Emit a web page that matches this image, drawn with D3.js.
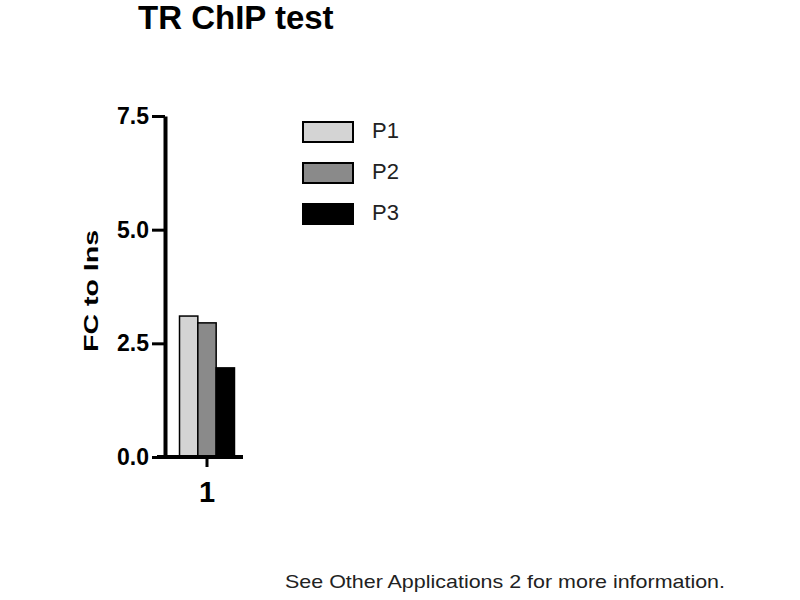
<!DOCTYPE html>
<html>
<head>
<meta charset="utf-8">
<script src="https://cdn.jsdelivr.net/npm/d3@7"></script>
<style>
  body { margin: 0; background: #fff; }
  text { font-family: "Liberation Sans", Arial, sans-serif; }
</style>
</head>
<body>
<svg id="chart" width="800" height="600"></svg>
<script>
// data
const categories = ["1"];
const seriesNames = ["P1", "P2", "P3"];
const seriesValues = [3.10, 2.95, 1.96];
const seriesColors = ["#d4d4d4", "#8a8a8a", "#000000"];
const yTicks = [0, 2.5, 5, 7.5];

const svg = d3.select("#chart");

svg.append("rect").attr("width", 800).attr("height", 600).attr("fill", "#fff");

// scales
const y = d3.scaleLinear().domain([0, 7.5]).range([457, 116]);
const x = d3.scaleBand().domain(categories).range([165, 249])
    .paddingInner(0).paddingOuter(0.264);
const xSub = d3.scaleBand().domain(seriesNames).range([0, x.bandwidth()]).padding(0);

// title
svg.append("text")
    .attr("x", 138).attr("y", 29)
    .attr("font-size", 33).attr("font-weight", "bold")
    .text("TR ChIP test");

// bars
const groups = svg.selectAll("g.cat")
    .data(categories)
    .join("g")
    .attr("class", "cat")
    .attr("transform", d => `translate(${x(d)},0)`);

groups.selectAll("rect")
    .data(() => seriesNames.map((s, i) => ({ name: s, value: seriesValues[i], color: seriesColors[i] })))
    .join("rect")
    .attr("x", d => xSub(d.name))
    .attr("width", xSub.bandwidth())
    .attr("y", d => y(d.value))
    .attr("height", d => y(0) - y(d.value))
    .attr("fill", d => d.color)
    .attr("stroke", "#000")
    .attr("stroke-width", 1.5);

// y axis
const yAxisG = svg.append("g")
    .attr("transform", "translate(165,0)")
    .call(d3.axisLeft(y).tickValues(yTicks).tickFormat(d3.format(".1f"))
        .tickSize(13).tickSizeOuter(0).tickPadding(3));
yAxisG.select(".domain").attr("stroke-width", 4);
yAxisG.selectAll(".tick line").attr("stroke-width", 3);
yAxisG.selectAll(".tick text")
    .attr("font-size", 23).attr("font-weight", "bold")
    .attr("fill", "#000")
    .attr("font-family", "Liberation Sans, Arial, sans-serif");

// x axis
const xAxisG = svg.append("g")
    .attr("transform", `translate(0,${y(0)})`)
    .call(d3.axisBottom(x).tickSize(10).tickSizeOuter(0).tickPadding(14));
xAxisG.select(".domain").remove();
xAxisG.append("line")
    .attr("x1", 157).attr("x2", 243)
    .attr("stroke", "#000").attr("stroke-width", 4);
xAxisG.selectAll(".tick line").attr("stroke-width", 3);
xAxisG.selectAll(".tick text")
    .attr("font-size", 29).attr("font-weight", "bold")
    .attr("fill", "#000")
    .attr("font-family", "Liberation Sans, Arial, sans-serif");

// y label
svg.append("text")
    .attr("transform", "translate(98,291) rotate(-90)")
    .attr("text-anchor", "middle")
    .attr("font-size", 21).attr("font-weight", "bold")
    .attr("textLength", 122).attr("lengthAdjust", "spacingAndGlyphs")
    .text("FC to Ins");

// legend
const legend = svg.append("g").attr("transform", "translate(303,122)");
const items = legend.selectAll("g")
    .data(seriesNames)
    .join("g")
    .attr("transform", (d, i) => `translate(0,${i * 41})`);
items.append("rect")
    .attr("width", 50).attr("height", 20)
    .attr("fill", (d, i) => seriesColors[i])
    .attr("stroke", "#000").attr("stroke-width", 2);
items.append("text")
    .attr("x", 69).attr("y", 16)
    .attr("font-size", 22)
    .attr("fill", "#222")
    .text(d => d);

// footnote
svg.append("text")
    .attr("x", 285).attr("y", 588)
    .attr("font-size", 19)
    .attr("fill", "#222")
    .attr("textLength", 440).attr("lengthAdjust", "spacingAndGlyphs")
    .text("See Other Applications 2 for more information.");
</script>
</body>
</html>
